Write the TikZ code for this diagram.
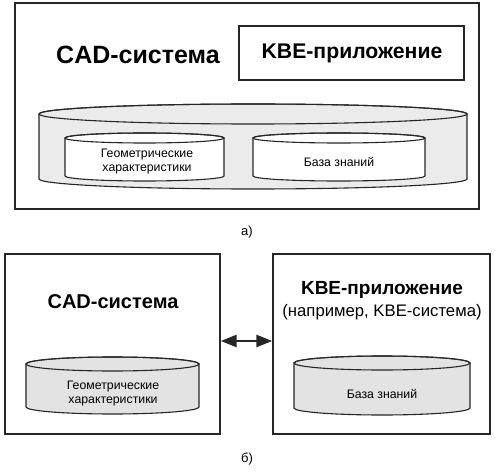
\documentclass[tikz,border=0pt]{standalone}
\usepackage{fontspec}
\setmainfont{Liberation Sans}
\usetikzlibrary{arrows.meta}
\tikzset{
  boxline/.style={draw=black!85, line width=1.4pt},
  cylline/.style={draw=black!85, line width=1.1pt},
  bigtext/.style={font=\bfseries\fontsize{25}{28}\selectfont, inner sep=0pt},
  midtext/.style={font=\bfseries\fontsize{20}{24}\selectfont, inner sep=0pt},
  smalltext/.style={font=\fontsize{12.3}{14}\selectfont, align=center, inner sep=0pt},
  lbl/.style={font=\fontsize{13}{15}\selectfont, inner sep=0pt},
}
\newcommand\mycyl[6]{%
  \filldraw[fill=#6, cylline] ({#1-#2},#3) -- ({#1-#2},#4)
    arc[start angle=180, end angle=360, x radius=#2, y radius=#5]
    -- ({#1+#2},#3)
    arc[start angle=0, end angle=180, x radius=#2, y radius=#5] -- cycle;
  \draw[cylline] (#1,#3) ellipse[x radius=#2, y radius=#5];
}
\begin{document}
\begin{tikzpicture}[x=1pt,y=1pt]
\useasboundingbox (0,0) rectangle (495,472);
% ---- a) ----
\node[boxline, minimum width=464pt, minimum height=206pt, inner sep=0pt] (boxA) at (247,366) {};
\node[boxline, minimum width=225pt, minimum height=54pt, inner sep=0pt] (kbeA) at (351.5,419) {};
\node[bigtext] (cadA) at (138,417) {CAD-система};
\node[midtext, font=\bfseries\fontsize{21.2}{24}\selectfont] (kbeAt) at (352,419) {KBE-приложение};
\mycyl{253}{214}{358}{293}{10}{gray!16}
\mycyl{144.5}{79.5}{334}{296}{5}{white}
\mycyl{339}{86}{334}{296}{5}{white}
\node[smalltext] (geoA) at (147,310.5) {Геометрические\\характеристики};
\node[smalltext] (kbA) at (339,310) {База знаний};
\node[lbl] (la) at (247,240) {а)};
% ---- б) ----
\node[boxline, minimum width=215pt, minimum height=180pt, inner sep=0pt] (boxL) at (112.5,128) {};
\node[boxline, minimum width=217pt, minimum height=180pt, inner sep=0pt] (boxR) at (381.5,128) {};
\node[midtext] (cadB) at (113,170) {CAD-система};
\node[midtext, font=\bfseries\fontsize{19}{22}\selectfont] (kbeB) at (382,182) {KBE-приложение};
\node[font=\fontsize{16.7}{20}\selectfont, inner sep=0pt] (exB) at (382,160) {(например, KBE-система)};
\draw[line width=2.6pt, black!85, {Triangle[length=16pt,width=12pt]}-{Triangle[length=16pt,width=12pt]}]
  (boxL.east |- 0,131) -- (boxR.west |- 0,131);
\mycyl{112.5}{86.5}{108}{65}{7}{gray!22}
\mycyl{382}{88}{109}{64}{7}{gray!22}
\node[smalltext] (geoB) at (113,78.5) {Геометрические\\характеристики};
\node[smalltext] (kbB) at (382,78) {База знаний};
\node[lbl] (lb) at (247,13) {б)};
\end{tikzpicture}
\end{document}
